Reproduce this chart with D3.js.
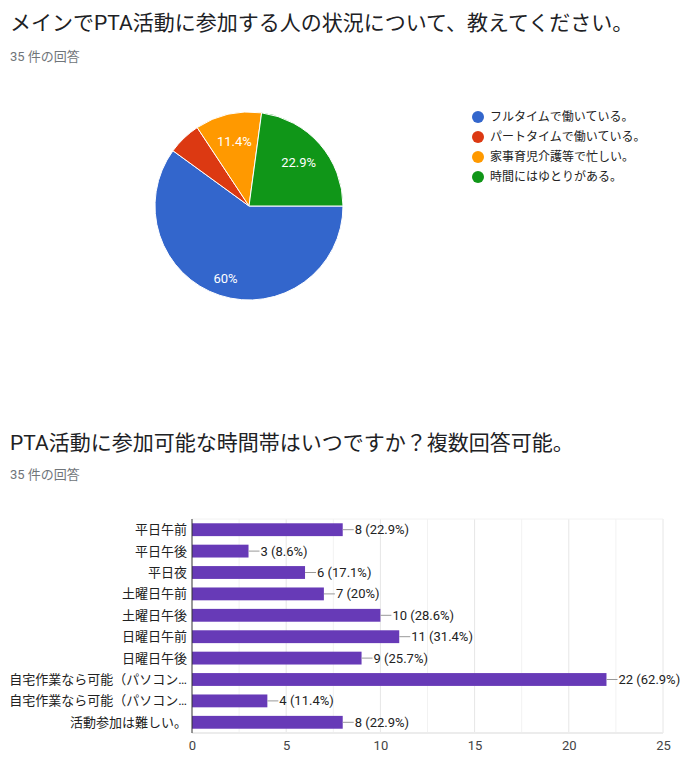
<!DOCTYPE html>
<html>
<head>
<meta charset="utf-8">
<script src="https://cdn.jsdelivr.net/npm/d3@7"></script>
<style>
  body { margin: 0; background: #fff; }
  svg { font-family: Roboto, "Noto Sans CJK JP", sans-serif; }
  .title { font-size: 21px; fill: #202124; }
  .sub { font-size: 13px; fill: #70757a; }
</style>
</head>
<body>
<div id="chart"></div>
<script>
// 円グラフ
const pieLabels = ["フルタイムで働いている。", "パートタイムで働いている。", "家事育児介護等で忙しい。", "時間にはゆとりがある。"];
const pieCounts = [21, 2, 4, 8];
const pieColors = ["#3366cc", "#dc3912", "#ff9900", "#109618"];

// 棒グラフ
const barLabels = ["平日午前", "平日午後", "平日夜", "土曜日午前", "土曜日午後", "日曜日午前", "日曜日午後",
    "自宅作業なら可能（パソコン…", "自宅作業なら可能（パソコン…", "活動参加は難しい。"];
const barCounts = [8, 3, 6, 7, 10, 11, 9, 22, 4, 8];
const barPct = ["22.9%", "8.6%", "17.1%", "20%", "28.6%", "31.4%", "25.7%", "62.9%", "11.4%", "22.9%"];
const xTicks = [0, 5, 10, 15, 20, 25];

const width = 700;
const height = 769;

const svg = d3.select("#chart")
    .append("svg")
    .attr("width", width)
    .attr("height", height);

// ---- 上のグラフ ----
svg.append("text").attr("class", "title").attr("x", 10).attr("y", 30)
    .text("メインでPTA活動に参加する人の状況について、教えてください。");
svg.append("text").attr("class", "sub").attr("x", 10).attr("y", 61).text("35 件の回答");

const total = d3.sum(pieCounts);
const pie = d3.pie().sort(null)
    .startAngle(Math.PI / 2)
    .endAngle(Math.PI / 2 + 2 * Math.PI);
const arc = d3.arc().innerRadius(0).outerRadius(94);

const pg = svg.append("g").attr("transform", "translate(249,206)");
const arcs = pie(pieCounts);
pg.selectAll("path")
    .data(arcs)
    .enter()
    .append("path")
    .attr("d", arc)
    .attr("fill", function(d, i) { return pieColors[i]; })
    .attr("stroke", "#fff")
    .attr("stroke-width", 1);

// 大きいスライスはラベルを少し外側に
function labelPos(d) {
    let r = d.data / total > 0.5 ? 76 : 66;
    return d3.arc().innerRadius(r).outerRadius(r).centroid(d);
}

pg.selectAll("text")
    .data(arcs.filter(function(d) { return d.data / total > 0.08; }))
    .enter()
    .append("text")
    .attr("x", function(d) { return labelPos(d)[0]; })
    .attr("y", function(d) { return labelPos(d)[1]; })
    .attr("dy", "0.35em")
    .attr("text-anchor", "middle")
    .attr("fill", "#fff")
    .attr("font-size", 13)
    .text(function(d) { return d3.format(".3~r")(d.data / total * 100) + "%"; });

const legend = svg.append("g").attr("transform", "translate(478,117)");
const li = legend.selectAll("g")
    .data(pieLabels)
    .enter()
    .append("g")
    .attr("transform", function(d, i) { return "translate(0," + i * 20 + ")"; });
li.append("circle").attr("r", 6).attr("fill", function(d, i) { return pieColors[i]; });
li.append("text").attr("x", 12).attr("dy", "0.35em")
    .attr("font-size", 12).attr("fill", "#222")
    .text(function(d) { return d; });

// ---- 下のグラフ ----
svg.append("text").attr("class", "title").attr("x", 10).attr("y", 450)
    .text("PTA活動に参加可能な時間帯はいつですか？複数回答可能。");
svg.append("text").attr("class", "sub").attr("x", 10).attr("y", 479).text("35 件の回答");

const x = d3.scaleLinear().domain([0, 25]).range([192, 663]);
const y = d3.scaleBand().domain(d3.range(barLabels.length)).range([519, 733]).paddingInner(0.4).paddingOuter(0.2);

// グリッド
svg.append("g")
    .selectAll("line")
    .data(d3.range(0, 25.01, 2.5).slice(1))
    .enter()
    .append("line")
    .attr("x1", function(d) { return x(d); })
    .attr("x2", function(d) { return x(d); })
    .attr("y1", 519).attr("y2", 733)
    .attr("stroke", function(d) { return d % 5 === 0 ? "#e6e6e6" : "#f2f2f2"; });
svg.append("line").attr("x1", 192).attr("x2", 663).attr("y1", 519).attr("y2", 519).attr("stroke", "#f2f2f2");
svg.append("line").attr("x1", 192).attr("x2", 663).attr("y1", 733).attr("y2", 733).attr("stroke", "#ececec").attr("stroke-width", 2);

svg.append("g")
    .selectAll("rect")
    .data(barCounts)
    .enter()
    .append("rect")
    .attr("x", x(0))
    .attr("y", function(d, i) { return y(i); })
    .attr("width", function(d) { return x(d) - x(0); })
    .attr("height", y.bandwidth())
    .attr("fill", "#673ab7");

svg.append("line").attr("x1", x(0)).attr("x2", x(0)).attr("y1", 519).attr("y2", 733)
    .attr("stroke", "#333").attr("stroke-width", 1);

// 値ラベル
const vl = svg.append("g")
    .selectAll("g")
    .data(barCounts)
    .enter()
    .append("g")
    .attr("transform", function(d, i) { return "translate(" + x(d) + "," + (y(i) + y.bandwidth() / 2) + ")"; });
vl.append("line").attr("x1", 0).attr("x2", 11).attr("stroke", "#999");
vl.append("text").attr("x", 12).attr("dy", "0.35em")
    .attr("font-size", 13).attr("fill", "#222")
    .text(function(d, i) { return d + " (" + barPct[i] + ")"; });

// カテゴリラベル
svg.append("g")
    .selectAll("text")
    .data(barLabels)
    .enter()
    .append("text")
    .attr("x", 187)
    .attr("y", function(d, i) { return y(i) + y.bandwidth() / 2; })
    .attr("dy", "0.35em")
    .attr("text-anchor", "end")
    .attr("font-size", 13).attr("fill", "#222")
    .text(function(d) { return d; });

// 軸
const axis = d3.axisBottom(x).tickValues(xTicks).tickSize(0).tickPadding(8);
const ag = svg.append("g").attr("transform", "translate(0,733)").call(axis);
ag.select(".domain").remove();
ag.selectAll("text").attr("font-size", 13).attr("fill", "#444")
    .attr("font-family", "Roboto, 'Noto Sans CJK JP', sans-serif");
</script>
</body>
</html>
